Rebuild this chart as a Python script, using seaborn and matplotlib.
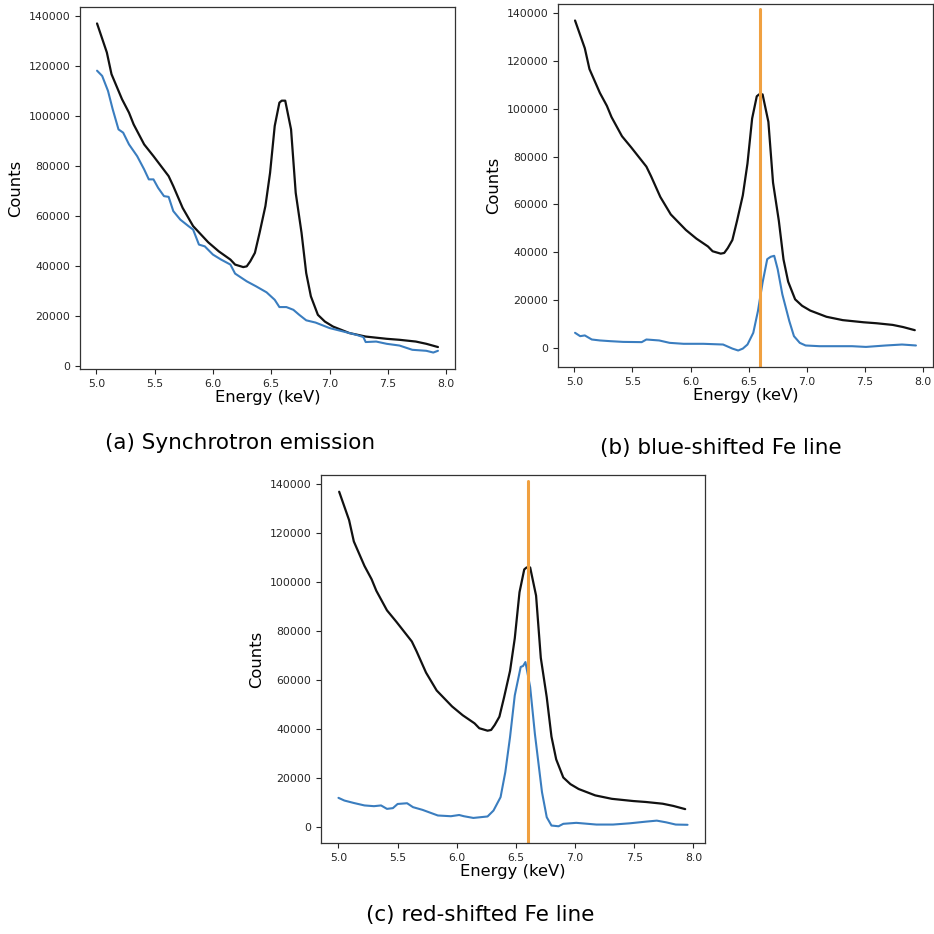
import matplotlib
matplotlib.use("Agg")
import matplotlib.pyplot as plt
import seaborn as sns
import numpy as np

# ---- total model (black), same in all three panels ----
total_x = [5.006, 5.09, 5.13, 5.22, 5.28, 5.32, 5.41, 5.49, 5.62, 5.66, 5.74, 5.83, 5.96, 6.00,
           6.05, 6.15, 6.19, 6.26, 6.29, 6.32, 6.36, 6.40, 6.45, 6.49, 6.53, 6.57, 6.59, 6.62,
           6.67, 6.71, 6.76, 6.80, 6.84, 6.90, 6.96, 7.03, 7.17, 7.31, 7.49, 7.60, 7.74, 7.83, 7.93]
total_y = [136900, 125300, 116600, 106600, 101200, 96500, 88500, 83800, 75800, 71800, 63100,
           55800, 49300, 47700, 45700, 42400, 40400, 39400, 39700, 41700, 45100, 53100, 63800,
           77100, 95900, 105200, 106000, 106000, 94500, 69100, 53100, 37000, 27700, 20300,
           17600, 15600, 13000, 11600, 10700, 10300, 9600, 8700, 7400]

# ---- (a) synchrotron component ----
sync_x = [5.006, 5.05, 5.10, 5.14, 5.19, 5.23, 5.28, 5.35, 5.41, 5.45, 5.49, 5.53, 5.58, 5.62,
          5.66, 5.72, 5.79, 5.83, 5.88, 5.93, 6.00, 6.07, 6.15, 6.19, 6.29, 6.37, 6.46, 6.53,
          6.57, 6.63, 6.69, 6.74, 6.80, 6.88, 7.00, 7.12, 7.23, 7.29, 7.31, 7.40, 7.49, 7.60,
          7.71, 7.83, 7.89, 7.93]
sync_y = [118000, 115900, 109900, 102600, 94500, 93200, 88500, 83800, 78500, 74500, 74500,
          71100, 67800, 67500, 61800, 58400, 55800, 54400, 48400, 47700, 44400, 42400, 40400,
          36800, 33700, 31700, 29300, 26300, 23400, 23400, 22300, 20300, 18100, 17200, 15000,
          13600, 12300, 11400, 9400, 9600, 8700, 8000, 6300, 5900, 5200, 5900]

# ---- (b) blue-shifted Fe line ----
blue_x = [5.006, 5.05, 5.09, 5.15, 5.22, 5.31, 5.42, 5.58, 5.62, 5.73, 5.82, 5.94, 6.11, 6.28,
          6.36, 6.41, 6.45, 6.49, 6.54, 6.58, 6.62, 6.66, 6.69, 6.72, 6.75, 6.79, 6.85, 6.89,
          6.94, 6.99, 7.11, 7.39, 7.51, 7.68, 7.82, 7.94]
blue_y = [6300, 4900, 5200, 3500, 3100, 2800, 2500, 2400, 3500, 3100, 2100, 1700, 1700, 1400,
          -300, -1100, -300, 1400, 6300, 15400, 27300, 37100, 38100, 38500, 32900, 22400, 11200,
          4900, 2100, 1000, 700, 700, 400, 1000, 1400, 1000]

# ---- (c) red-shifted Fe line ----
red_x = [5.0, 5.05, 5.13, 5.22, 5.30, 5.36, 5.41, 5.46, 5.50, 5.58, 5.63, 5.71, 5.84, 5.95,
         6.02, 6.06, 6.14, 6.26, 6.31, 6.37, 6.41, 6.45, 6.49, 6.54, 6.56, 6.58, 6.62, 6.66,
         6.72, 6.76, 6.80, 6.86, 6.90, 7.01, 7.18, 7.32, 7.46, 7.60, 7.69, 7.77, 7.85, 7.95]
red_y = [12000, 10900, 9900, 8900, 8600, 8900, 7500, 7800, 9500, 9800, 8200, 7100, 4800, 4500,
         5000, 4500, 3800, 4400, 6800, 12300, 22500, 36800, 53800, 65400, 65800, 67400, 57200,
         38100, 14300, 4100, 700, 400, 1400, 1800, 1100, 1100, 1600, 2300, 2700, 2000, 1100, 1000]

fe_rest = 6.6
captions = ["(a) Synchrotron emission", "(b) blue-shifted Fe line", "(c) red-shifted Fe line"]

sns.set_style("ticks")
plt.rcParams["font.family"] = ["DejaVu Sans"]

W = H = 934
fig = plt.figure(figsize=(W / 100, H / 100), dpi=100)

def rect(l, t, r, b):
    return [l / W, 1 - b / H, (r - l) / W, (b - t) / H]

axes = [fig.add_axes(rect(80, 7, 455, 369)),
        fig.add_axes(rect(558, 4, 933, 367)),
        fig.add_axes(rect(321, 475, 705, 843))]
comps = [(sync_x, sync_y), (blue_x, blue_y), (red_x, red_y)]

black = "#111111"
blue = "#3a7dbf"
orange = "#f0a040"

for i, ax in enumerate(axes):
    sns.lineplot(x=total_x, y=total_y, ax=ax, color=black, lw=1.6)
    cx, cy = comps[i]
    sns.lineplot(x=cx, y=cy, ax=ax, color=blue, lw=1.5)
    if i > 0:
        ax.axvline(fe_rest, ymax=0.985, color=orange, lw=2.2)
    ax.set_xticks([5.0, 5.5, 6.0, 6.5, 7.0, 7.5, 8.0])
    ax.set_yticks(np.arange(0, 140001, 20000))
    ax.tick_params(labelsize=7.8, length=3.5, width=0.8)
    ax.set_xlabel("Energy (keV)", fontsize=11.8, labelpad=1, color="black")
    ax.set_ylabel("Counts", fontsize=11.8, color="black")
    for s in ax.spines.values():
        s.set_visible(True)
        s.set_linewidth(0.9)
        s.set_color("#333333")

fig.text(240 / W, 1 - 443 / H, captions[0], ha="center", va="center", fontsize=15.5, color="black")
fig.text(721 / W, 1 - 448 / H, captions[1], ha="center", va="center", fontsize=15.5, color="black")
fig.text(480 / W, 1 - 915 / H, captions[2], ha="center", va="center", fontsize=15.5, color="black")

fig.savefig("out.png", dpi=100)
